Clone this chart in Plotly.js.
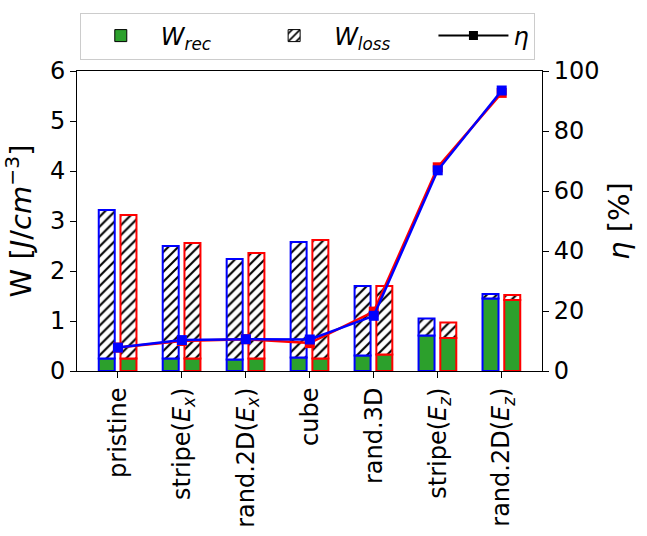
<!DOCTYPE html>
<html>
<head>
<meta charset="utf-8">
<script src="https://cdn.plot.ly/plotly-3.0.1.min.js"></script>
<style>
  body { margin: 0; background: #fff; }
  #chart { width: 647px; height: 536px; }
</style>
</head>
<body>
<div id="chart"></div>
<script>
// categories (tick labels with sub-scripts)
var cats = ['pristine', 'stripe(Ex)', 'rand.2D(Ex)', 'cube', 'rand.3D', 'stripe(Ez)', 'rand.2D(Ez)'];
var catLabels = ['pristine', 'stripe(<i>E</i><sub><i>x</i></sub>)', 'rand.2D(<i>E</i><sub><i>x</i></sub>)',
  'cube', 'rand.3D', 'stripe(<i>E</i><sub><i>z</i></sub>)', 'rand.2D(<i>E</i><sub><i>z</i></sub>)'];

// recoverable energy and loss, J/cm^-3 (blue-edged / red-edged bars)
var recBlue = [0.25, 0.25, 0.23, 0.27, 0.31, 0.71, 1.45];
var lossBlue = [2.97, 2.25, 2.01, 2.31, 1.39, 0.34, 0.09];
var recRed = [0.25, 0.25, 0.25, 0.25, 0.33, 0.66, 1.42];
var lossRed = [2.87, 2.31, 2.11, 2.37, 1.37, 0.31, 0.10];

// efficiency in %
var etaBlue = [7.8, 10.3, 10.6, 10.5, 18.4, 66.9, 93.5];
var etaRed = [7.8, 10.0, 10.6, 9.3, 19.8, 67.9, 92.7];

var FONT = 'DejaVu Sans, sans-serif';
var GREEN = '#2ca02c';
var hatch = {shape: '/', fgcolor: '#000', bgcolor: '#fff', size: 7, solidity: 0.3};
var pad = '\u00a0\u00a0\u00a0\u00a0\u00a0';  // spacing between legend entries

function recBar(y, edge, off) {
  return {type: 'bar', x: cats, y: y, width: 0.25, offset: off, showlegend: false,
    marker: {color: GREEN, line: {color: edge, width: 2}}, hoverinfo: 'skip'};
}
function lossBar(y, base, edge, off) {
  return {type: 'bar', x: cats, y: y, base: base, width: 0.25, offset: off, showlegend: false,
    marker: {color: '#fff', pattern: hatch, line: {color: edge, width: 2}}, hoverinfo: 'skip'};
}

var traces = [
  recBar(recBlue, 'blue', -0.3),
  lossBar(lossBlue, recBlue, 'blue', -0.3),
  recBar(recRed, 'red', 0.04),
  lossBar(lossRed, recRed, 'red', 0.04),
  // legend-only entries
  {type: 'bar', x: [null], y: [null], name: '<i>W</i><sub><i>rec</i></sub>' + pad,
    marker: {color: GREEN, line: {color: '#000', width: 1}}},
  {type: 'bar', x: [null], y: [null], name: '<i>W</i><sub><i>loss</i></sub>' + pad,
    marker: {color: '#fff', pattern: hatch, line: {color: '#000', width: 1}}},
  {type: 'scatter', mode: 'lines+markers', x: [null], y: [null], yaxis: 'y2', name: '<i>η</i>',
    line: {color: '#000', width: 2}, marker: {symbol: 'square', size: 9, color: '#000'}},
  // efficiency lines
  {type: 'scatter', mode: 'lines+markers', x: cats, y: etaRed, yaxis: 'y2', showlegend: false,
    line: {color: 'red', width: 2.5}, marker: {symbol: 'square', size: 10, color: 'red'}},
  {type: 'scatter', mode: 'lines+markers', x: cats, y: etaBlue, yaxis: 'y2', showlegend: false,
    line: {color: 'blue', width: 2.5}, marker: {symbol: 'square', size: 10, color: 'blue'}}
];

var layout = {
  width: 647, height: 536,
  margin: {l: 77, r: 105, t: 69, b: 165},
  paper_bgcolor: '#fff', plot_bgcolor: '#fff',
  font: {family: FONT, size: 24, color: '#000'},
  barmode: 'overlay',
  xaxis: {
    type: 'category', range: [-0.64, 6.63],
    tickvals: cats, ticktext: catLabels, tickangle: -90,
    showline: true, linecolor: '#000', linewidth: 1, mirror: true,
    ticks: 'outside', ticklen: 6, tickcolor: '#000', showgrid: false
  },
  yaxis: {
    range: [0, 6], dtick: 1, showgrid: false, zeroline: false,
    showline: true, linecolor: '#000', linewidth: 1,
    ticks: 'outside', ticklen: 6, tickcolor: '#000',
    title: {text: 'W [<i>J</i>/<i>cm</i><sup>−3</sup>]', standoff: 11}
  },
  yaxis2: {
    overlaying: 'y', side: 'right', range: [0, 100], dtick: 20,
    showgrid: false, zeroline: false,
    showline: true, linecolor: '#000', linewidth: 1,
    ticks: 'outside', ticklen: 6, tickcolor: '#000',
    title: {text: '<i>η</i> [%]', standoff: 10}
  },
  legend: {
    orientation: 'h', x: 0.006, xanchor: 'left', y: 1.195, yanchor: 'top',
    bordercolor: '#ccc', borderwidth: 1, bgcolor: '#fff',
    itemwidth: 70, font: {size: 24}
  }
};

Plotly.newPlot('chart', traces, layout, {displayModeBar: false, staticPlot: true});
</script>
</body>
</html>
